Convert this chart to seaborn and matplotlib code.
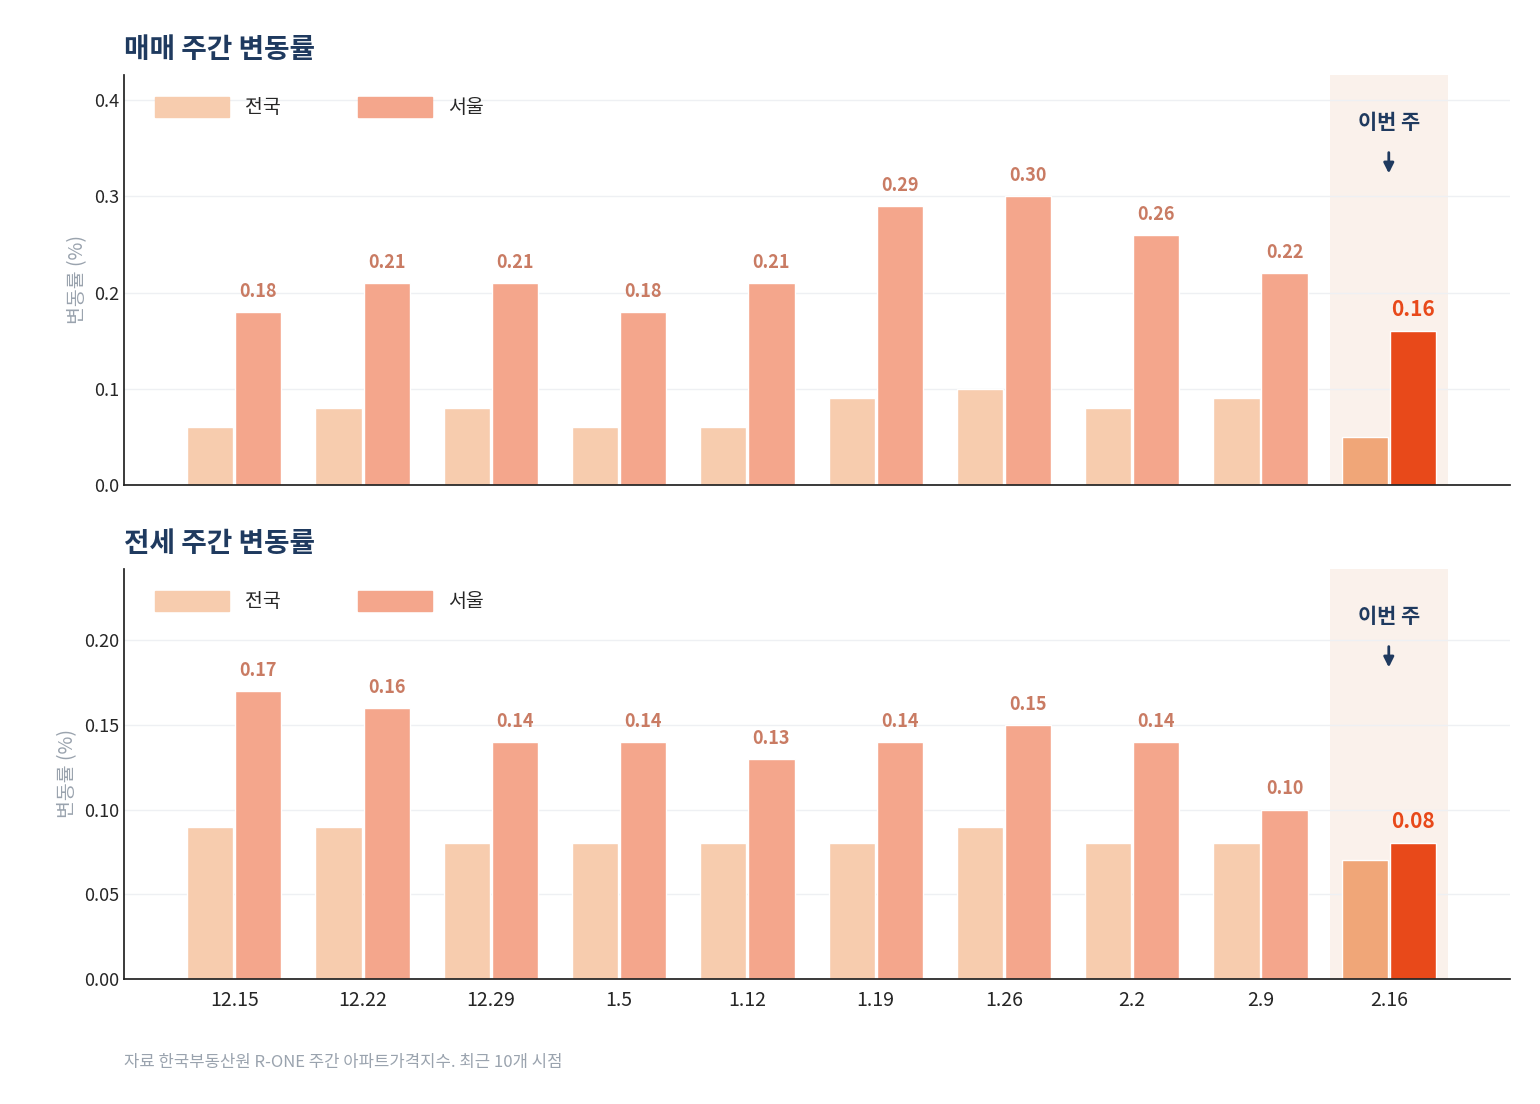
import matplotlib
matplotlib.use("Agg")
import matplotlib.pyplot as plt
import seaborn as sns
import pandas as pd
from matplotlib.patches import Patch

weeks = ["12.15", "12.22", "12.29", "1.5", "1.12", "1.19", "1.26", "2.2", "2.9", "2.16"]
sale_nation = [0.06, 0.08, 0.08, 0.06, 0.06, 0.09, 0.10, 0.08, 0.09, 0.05]
sale_seoul = [0.18, 0.21, 0.21, 0.18, 0.21, 0.29, 0.30, 0.26, 0.22, 0.16]
rent_nation = [0.09, 0.09, 0.08, 0.08, 0.08, 0.08, 0.09, 0.08, 0.08, 0.07]
rent_seoul = [0.17, 0.16, 0.14, 0.14, 0.13, 0.14, 0.15, 0.14, 0.10, 0.08]

C_NAT, C_SEO = "#F7CCAE", "#F4A68C"
C_NAT_HI, C_SEO_HI = "#F0A678", "#E8491A"
NAVY = "#1F3A5F"
LABEL = "#C97B63"

sns.set_theme(style="white")
plt.rcParams["font.family"] = ["Noto Sans CJK KR", "DejaVu Sans"]

fig = plt.figure(figsize=(15.4, 11.04), dpi=100)
ax1 = fig.add_axes([124/1540, 1-485/1104, 1386/1540, 410/1104])
ax2 = fig.add_axes([124/1540, 1-979/1104, 1386/1540, 410/1104])


def draw(ax, nat, seo, title, ymax, yticks, fmt):
    df = pd.DataFrame({"week": weeks * 2, "val": nat + seo,
                       "region": ["전국"] * len(weeks) + ["서울"] * len(weeks)})
    sns.barplot(data=df, x="week", y="val", hue="region", order=weeks,
                hue_order=["전국", "서울"], palette=[C_NAT, C_SEO],
                width=0.75, gap=0.04, ax=ax, legend=False, zorder=2,
                saturation=1)
    n = len(weeks)
    nat_bars, seo_bars = list(ax.containers[0]), list(ax.containers[1])
    nat_bars[-1].set_facecolor(C_NAT_HI)
    seo_bars[-1].set_facecolor(C_SEO_HI)
    for i, b in enumerate(seo_bars):
        last = i == n - 1
        ax.annotate(f"{seo[i]:.2f}", (b.get_x() + b.get_width() / 2, b.get_height()),
                    xytext=(0, 8), textcoords="offset points", ha="center", va="bottom",
                    fontsize=15 if last else 13, fontweight="bold",
                    color=C_SEO_HI if last else LABEL)
    ax.axvspan(8.54, 9.46, color="#FAF1EB", zorder=0, lw=0)
    ax.set_xlim(-0.86, 9.945)
    ax.set_ylim(0, ymax)
    ax.set_yticks(yticks)
    ax.set_yticklabels([fmt.format(v) for v in yticks], fontsize=13)
    ax.yaxis.grid(True, color="#EEF0F3", lw=1, zorder=0)
    ax.set_axisbelow(True)
    for s in ["top", "right"]:
        ax.spines[s].set_visible(False)
    for s in ["left", "bottom"]:
        ax.spines[s].set_color("#222222")
    ax.set_xlabel("")
    ax.set_ylabel("변동률 (%)", fontsize=14, color="#9AA3AE")
    ax.tick_params(axis="x", labelsize=14, length=0, pad=8)
    ax.tick_params(axis="y", length=0)
    ax.set_title(title, loc="left", fontsize=20, fontweight="bold", color=NAVY, pad=12)
    ax.legend(handles=[Patch(color=C_NAT), Patch(color=C_SEO)], labels=["전국", "서울"],
              loc="upper left", ncol=2, frameon=False, fontsize=14, handlelength=3.8,
              handleheight=1.2, columnspacing=4, bbox_to_anchor=(0.01, 0.99))
    ax.annotate("이번 주", xy=(9, ymax * 0.76), xytext=(9, ymax * 0.885), ha="center",
                va="center", fontsize=15, fontweight="bold", color=NAVY,
                arrowprops=dict(arrowstyle="-|>", color=NAVY, lw=2, shrinkA=12, shrinkB=0))


draw(ax1, sale_nation, sale_seoul, "매매 주간 변동률", 0.426,
     [0.0, 0.1, 0.2, 0.3, 0.4], "{:.1f}")
ax1.set_xticklabels([])
draw(ax2, rent_nation, rent_seoul, "전세 주간 변동률", 0.242,
     [0.0, 0.05, 0.10, 0.15, 0.20], "{:.2f}")

fig.text(124/1540, 1-1062/1104, "자료 한국부동산원 R-ONE 주간 아파트가격지수. 최근 10개 시점",
         fontsize=12, color="#9AA3AE", va="center")

fig.savefig("out.png", dpi=100)
